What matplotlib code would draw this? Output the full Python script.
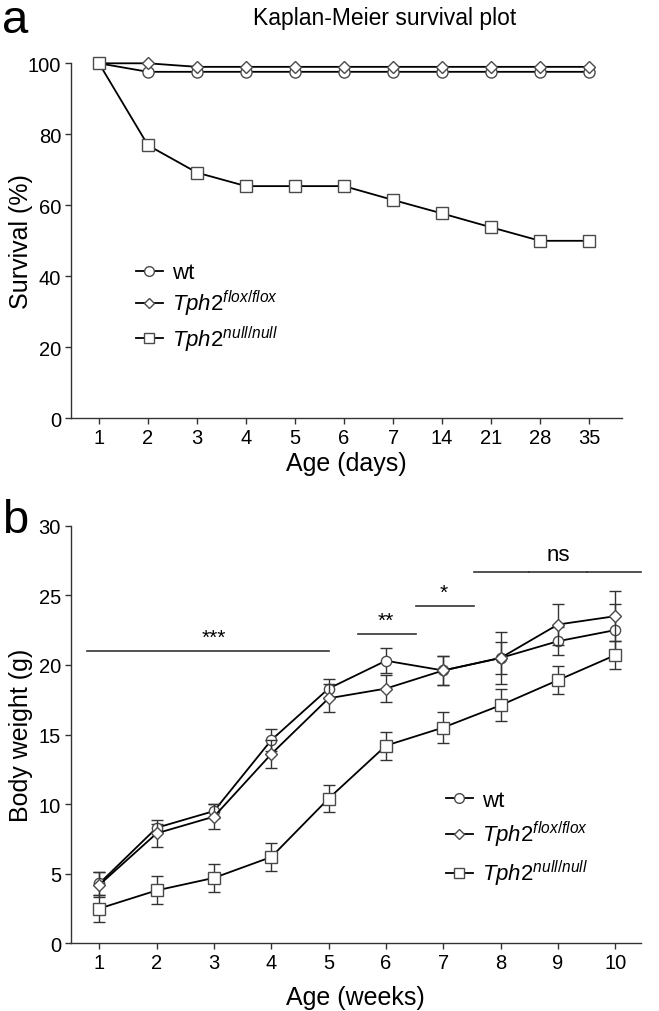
import numpy as np
import matplotlib
matplotlib.use("Agg")
import matplotlib.pyplot as plt
from matplotlib.lines import Line2D

plt.rcParams['font.family'] = ['Liberation Sans', 'DejaVu Sans']
plt.rcParams['mathtext.fontset'] = 'custom'
plt.rcParams['mathtext.rm'] = 'Liberation Sans'
plt.rcParams['mathtext.it'] = 'Liberation Sans:italic'

# ---------------- data ----------------
days_labels = ['1', '2', '3', '4', '5', '6', '7', '14', '21', '28', '35']
surv_wt = [100, 97.6, 97.6, 97.6, 97.6, 97.6, 97.6, 97.6, 97.6, 97.6, 97.6]
surv_flox = [100, 100, 99.0, 99.0, 99.0, 99.0, 99.0, 99.0, 99.0, 99.0, 99.0]
surv_null = [100, 76.9, 69.2, 65.4, 65.4, 65.4, 61.5, 57.7, 53.8, 50.0, 50.0]

weeks = [1, 2, 3, 4, 5, 6, 7, 8, 9, 10]
bw_wt = [4.3, 8.3, 9.5, 14.6, 18.3, 20.3, 19.6, 20.5, 21.7, 22.5]
bw_wt_err = [0.8, 0.3, 0.5, 0.8, 0.7, 0.9, 1.05, 1.15, 1.0, 1.9]
bw_flox = [4.2, 7.9, 9.1, 13.6, 17.6, 18.3, 19.6, 20.5, 22.9, 23.5]
bw_flox_err = [0.9, 0.95, 0.9, 1.0, 1.0, 1.0, 1.05, 1.85, 1.45, 1.8]
bw_null = [2.5, 3.8, 4.7, 6.2, 10.4, 14.2, 15.5, 17.1, 18.9, 20.7]
bw_null_err = [1.0, 1.0, 1.0, 1.0, 0.95, 1.0, 1.1, 1.15, 1.0, 1.0]

labels = ['wt', r'$\mathit{Tph2}^{\mathit{flox/flox}}$', r'$\mathit{Tph2}^{\mathit{null/null}}$']

# significance bars
sig_x0 = [0.79, 5.52, 6.52]
sig_x1 = [5.0, 6.52, 7.53]
sig_y = [21.0, 22.2, 24.2]
sig_txt = ['***', '**', '*']
sig_tx = [3.0, 6.0, 7.0]
ns_x0 = [7.53, 8.5, 9.5]
ns_x1 = [8.5, 9.5, 10.45]
ns_y = 26.7

# ---------------- figure ----------------
W, H = 659, 1012
fig = plt.figure(figsize=(W / 100, H / 100), dpi=100)

edge = '#4a4a4a'
spine_c = '#333333'
TICK = 14.5
LAB = 18

def style_axes(ax):
    for s in ['top', 'right']:
        ax.spines[s].set_visible(False)
    for s in ['left', 'bottom']:
        ax.spines[s].set_color(spine_c)
        ax.spines[s].set_linewidth(1.0)
    ax.tick_params(direction='out', length=4, width=1.0, color=spine_c,
                   labelsize=TICK, pad=3)

def fax(x0, y0, x1, y1):
    return fig.add_axes([x0 / W, 1 - y1 / H, (x1 - x0) / W, (y1 - y0) / H])

# ---- panel a ----
A_X0, A_X1 = 71, 622
ax1 = fax(A_X0, 64.3, A_X1, 419.3)
xa = np.arange(len(days_labels))
series_a = [(surv_wt, 'o', 8.0), (surv_flox, 'D', 6.3), (surv_null, 's', 9.0)]
for i, (vals, mk, ms) in enumerate(series_a):
    ax1.plot(xa, vals, color='black', lw=1.3, marker=mk, ms=ms,
             mfc='white', mec=edge, mew=1.0, clip_on=False, zorder=3 + i)
ax1.set_xlim(-0.571, 10.67)
ax1.set_ylim(0, 100)
ax1.set_xticks(xa)
ax1.set_xticklabels(days_labels)
ax1.set_yticks([0, 20, 40, 60, 80, 100])
style_axes(ax1)
ax1.set_xlabel('Age (days)', fontsize=LAB, labelpad=3)
ax1.set_ylabel('Survival (%)', fontsize=LAB, va='center')
ax1.yaxis.set_label_coords((21 - A_X0) / (A_X1 - A_X0), 0.5)

handles_a = [Line2D([], [], color='black', lw=1.3, marker=m, ms=s, mfc='white',
                    mec=edge, mew=1.0) for m, s in [('o', 7), ('D', 5.5), ('s', 7.5)]]
fig.legend(handles_a, labels, loc='center left',
           bbox_to_anchor=(136 / W, 1 - 309 / H), frameon=False,
           fontsize=16, handlelength=1.2, handletextpad=0.4,
           labelspacing=0.22, borderpad=0, borderaxespad=0, numpoints=1)

# ---- panel b ----
B_X0, B_X1 = 70.7, 641
ax2 = fax(B_X0, 526.7, B_X1, 944.3)
series_b = [(bw_wt, bw_wt_err, 'o', 7.4), (bw_flox, bw_flox_err, 'D', 6.0),
            (bw_null, bw_null_err, 's', 8.2)]
for i, (vals, err, mk, ms) in enumerate(series_b):
    ax2.errorbar(weeks, vals, yerr=err, fmt='none', ecolor='#333333',
                 elinewidth=1.0, capsize=4.5, capthick=1.0, zorder=2 + 2 * i)
    ax2.plot(weeks, vals, color='black', lw=1.3, marker=mk, ms=ms,
             mfc='white', mec=edge, mew=1.0, zorder=3 + 2 * i)
ax2.set_xlim(0.5, 10.45)
ax2.set_ylim(0, 30)
ax2.set_xticks(weeks)
ax2.set_yticks([0, 5, 10, 15, 20, 25, 30])
style_axes(ax2)
ax2.set_xlabel('Age (weeks)', fontsize=LAB, labelpad=9)
ax2.set_ylabel('Body weight (g)', fontsize=LAB, va='center')
ax2.yaxis.set_label_coords((21 - B_X0) / (B_X1 - B_X0), 0.5)

for x0, x1, y, t, tx in zip(sig_x0, sig_x1, sig_y, sig_txt, sig_tx):
    ax2.plot([x0, x1], [y, y], color='#333333', lw=1.2, clip_on=False)
    ax2.text(tx, y + 0.3, t, ha='center', va='bottom', fontsize=15)
for x0, x1 in zip(ns_x0, ns_x1):
    ax2.plot([x0, x1], [ns_y, ns_y], color='#333333', lw=1.2, clip_on=False)
ax2.text(9.0, ns_y + 0.45, 'ns', ha='center', va='bottom', fontsize=16)

handles_b = [Line2D([], [], color='black', lw=1.3, marker=m, ms=s, mfc='white',
                    mec=edge, mew=1.0) for m, s in [('o', 7), ('D', 5.5), ('s', 7.5)]]
fig.legend(handles_b, labels, loc='center left',
           bbox_to_anchor=(446 / W, 1 - 840 / H), frameon=False,
           fontsize=16, handlelength=1.2, handletextpad=0.4,
           labelspacing=0.38, borderpad=0, borderaxespad=0, numpoints=1)

# titles / panel letters
fig.text(385 / W, 1 - 18 / H, 'Kaplan-Meier survival plot', ha='center', va='center', fontsize=16.5)
fig.text(2 / W, 1 - 33 / H, 'a', ha='left', va='baseline', fontsize=34)
fig.text(2 / W, 1 - 533 / H, 'b', ha='left', va='baseline', fontsize=34)

fig.savefig('out.png', dpi=100)
